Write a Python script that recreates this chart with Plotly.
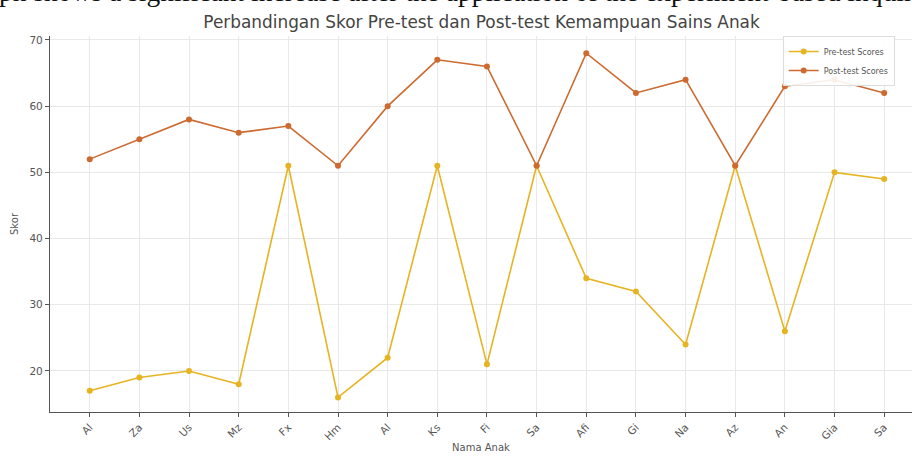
import plotly.graph_objects as go

names = ["Al", "Za", "Us", "Mz", "Fx", "Hm", "Al", "Ks", "Fi", "Sa",
         "Afi", "Gi", "Na", "Az", "An", "Gia", "Sa"]
pre_scores = [17, 19, 20, 18, 51, 16, 22, 51, 21, 51, 34, 32, 24, 51, 26, 50, 49]
post_scores = [52, 55, 58, 56, 57, 51, 60, 67, 66, 51, 68, 62, 64, 51, 63, 64, 62]
y_ticks = [20, 30, 40, 50, 60, 70]

x_idx = list(range(len(names)))

fig = go.Figure()
fig.add_trace(go.Scatter(
    x=x_idx, y=pre_scores, mode="lines+markers", name="Pre-test Scores",
    line=dict(color="#e6b422", width=1.6),
    marker=dict(color="#e6b422", size=6)))
fig.add_trace(go.Scatter(
    x=x_idx, y=post_scores, mode="lines+markers", name="Post-test Scores",
    line=dict(color="#cc6a30", width=1.6),
    marker=dict(color="#cc6a30", size=6)))

fig.update_layout(
    width=912, height=457,
    margin=dict(l=50, r=0, t=36, b=45, autoexpand=False),
    paper_bgcolor="white", plot_bgcolor="white",
    font=dict(family="DejaVu Sans", color="#555555"),
    title=dict(text="Perbandingan Skor Pre-test dan Post-test Kemampuan Sains Anak",
               x=0.528, xanchor="center", y=0.952, yanchor="middle",
               font=dict(size=16.9, color="#444444")),
    showlegend=True,
    legend=dict(x=0.850, xanchor="left", y=1.0, yanchor="top",
                bgcolor="rgba(255,255,255,0.9)", bordercolor="#dddddd",
                borderwidth=1, font=dict(size=8, color="#555555"),
                itemwidth=30, tracegroupgap=0),
    annotations=[dict(
        text="ph shows a significant increase after the application of the experiment-based inquiry",
        xref="paper", yref="paper", x=-0.062, xanchor="left",
        y=1.119, yanchor="middle", showarrow=False,
        font=dict(family="Liberation Serif", size=27.5, color="#111111"))],
)

fig.update_xaxes(
    range=[-0.8, 16.56], tickmode="array", tickvals=x_idx, ticktext=names,
    tickangle=-45, tickfont=dict(size=10.5, color="#555555"),
    showgrid=True, gridcolor="#e8e8e8", gridwidth=1,
    showline=True, linecolor="#555555", linewidth=1.2,
    ticks="outside", ticklen=4, tickcolor="#555555",
    zeroline=False, automargin=False,
    title=dict(text="Nama Anak", font=dict(size=10, color="#555555"), standoff=2),
)
fig.update_yaxes(
    range=[13.8, 70.6], tickmode="array", tickvals=y_ticks,
    tickfont=dict(size=10.5, color="#555555"),
    showgrid=True, gridcolor="#e8e8e8", gridwidth=1,
    showline=True, linecolor="#555555", linewidth=1.2,
    ticks="outside", ticklen=4, tickcolor="#555555",
    zeroline=False, automargin=False,
    title=dict(text="Skor", font=dict(size=10, color="#555555"), standoff=8),
)

fig.write_html(
    "out.html",
    config={"displayModeBar": False},
    post_script="document.body.style.margin='0';document.body.style.overflow='hidden';",
)
